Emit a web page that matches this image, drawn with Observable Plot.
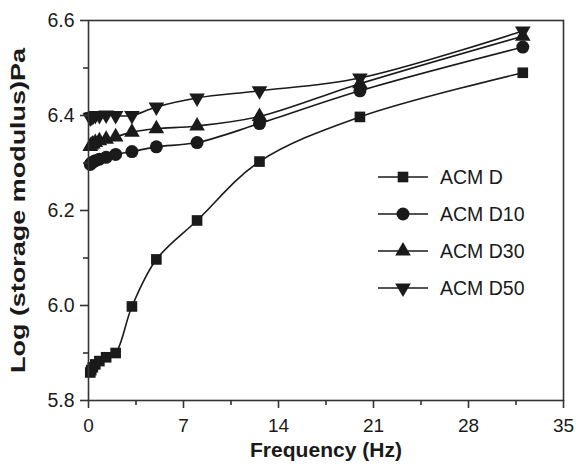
<!DOCTYPE html>
<html>
<head>
<meta charset="utf-8">
<script src="https://cdn.jsdelivr.net/npm/d3@7"></script>
<script src="https://cdn.jsdelivr.net/npm/@observablehq/plot@0.6"></script>
<style>
  body { margin: 0; background: #fff; }
  #wrap { position: relative; width: 576px; height: 468px; font-family: "Liberation Sans", Arial, sans-serif; }
  #legend { position: absolute; left: 0; top: 0; }
</style>
</head>
<body>
<div id="wrap"></div>
<script>
// Frequencies (Hz)
const freq = [0.13, 0.2, 0.32, 0.5, 0.8, 1.3, 2.0, 3.2, 5.0, 8.0, 12.6, 20.0, 32.0];
// Log (storage modulus) Pa
const acmD   = [5.859, 5.864, 5.870, 5.876, 5.883, 5.891, 5.900, 5.998, 6.097, 6.179, 6.303, 6.397, 6.490];
const acmD10 = [6.297, 6.300, 6.302, 6.305, 6.308, 6.312, 6.318, 6.324, 6.334, 6.343, 6.383, 6.452, 6.544];
const acmD30 = [6.335, 6.338, 6.340, 6.343, 6.347, 6.350, 6.355, 6.365, 6.372, 6.378, 6.398, 6.467, 6.567];
const acmD50 = [6.395, 6.397, 6.398, 6.400, 6.400, 6.401, 6.400, 6.400, 6.418, 6.437, 6.452, 6.479, 6.578];

const seriesNames = ["ACM D", "ACM D10", "ACM D30", "ACM D50"];
const seriesValues = [acmD, acmD10, acmD30, acmD50];

const xTicks = [0, 7, 14, 21, 28, 35];
const xMinor = [3.5, 10.5, 17.5, 24.5, 31.5];
const yTicks = [5.8, 6.0, 6.2, 6.4, 6.6];
const yMinor = [5.9, 6.1, 6.3, 6.5];

const xTitle = "Frequency (Hz)";
const yTitle = "Log (storage modulus)Pa";

// custom downward triangle
const triangleDown = {
  draw(ctx, size) {
    const s = Math.sqrt(size * 4 / Math.sqrt(3));
    const h = s * Math.sqrt(3) / 2;
    ctx.moveTo(-s / 2, -h / 3);
    ctx.lineTo(s / 2, -h / 3);
    ctx.lineTo(0, 2 * h / 3);
    ctx.closePath();
  }
};
const symbols = [d3.symbolSquare, d3.symbolCircle, d3.symbolTriangle, triangleDown];
const radii = [6, 6.5, 5.8, 5.8];

const rows = [];
seriesNames.forEach((name, i) => {
  freq.forEach((f, j) => rows.push({series: name, si: i, x: f, y: seriesValues[i][j]}));
});

const ink = "#1a1a1a";
const marks = [];
seriesNames.forEach((name, i) => {
  const data = rows.filter(d => d.si === i);
  marks.push(Plot.line(data, {x: "x", y: "y", curve: "catmull-rom", stroke: ink, strokeWidth: 1.6}));
});
seriesNames.forEach((name, i) => {
  const data = rows.filter(d => d.si === i);
  marks.push(Plot.dot(data, {x: "x", y: "y", symbol: symbols[i], r: radii[i], fill: ink, stroke: "none"}));
});

const chart = Plot.plot({
  width: 576,
  height: 468,
  marginLeft: 88,
  marginRight: 13,
  marginTop: 20,
  marginBottom: 68,
  style: {fontFamily: "'Liberation Sans', Arial, sans-serif", color: ink, background: "#fff", overflow: "visible"},
  x: {domain: [0, 35]},
  y: {domain: [5.8, 6.6]},
  marks: [
    ...marks,
    Plot.frame({stroke: "#333", strokeWidth: 1.6}),
    Plot.axisX({ticks: xTicks, tickSize: 8, tickPadding: 10, fontSize: 19, label: null, stroke: "#333", strokeWidth: 1.6}),
    Plot.axisX({ticks: xMinor, tickSize: 5, tickFormat: () => "", label: null, stroke: "#333", strokeWidth: 1.6}),
    Plot.axisY({ticks: yTicks, tickSize: 8, tickPadding: 6, fontSize: 19.5, tickFormat: d3.format(".1f"), label: null, stroke: "#333", strokeWidth: 1.6}),
    Plot.axisY({ticks: yMinor, tickSize: 5, tickFormat: () => "", label: null, stroke: "#333", strokeWidth: 1.6}),
    Plot.text([xTitle], {frameAnchor: "bottom", dy: 56, text: d => d, fontSize: 20, fontWeight: "bold", fill: ink, textAnchor: "middle", className: "xtitle"}),
    Plot.text([yTitle], {frameAnchor: "left", dx: -70, rotate: -90, text: d => d, fontSize: 20, fontWeight: "bold", fill: ink, textAnchor: "middle", className: "ytitle"})
  ]
});

const wrap = document.getElementById("wrap");
wrap.appendChild(chart);

// stretch titles to the reference's widths
d3.select(chart).selectAll(".xtitle text").attr("textLength", 152).attr("lengthAdjust", "spacingAndGlyphs");
d3.select(chart).selectAll(".ytitle text").attr("textLength", 325).attr("lengthAdjust", "spacingAndGlyphs");

// Legend overlay
const leg = d3.select(wrap).append("svg")
  .attr("id", "legend").attr("width", 576).attr("height", 468);
const lx0 = 378, lx1 = 428, lmx = 403, ltx = 440, ly0 = 177, ldy = 37;
seriesNames.forEach((name, i) => {
  const y = ly0 + i * ldy;
  const g = leg.append("g");
  g.append("line").attr("x1", lx0).attr("x2", lx1).attr("y1", y).attr("y2", y)
    .attr("stroke", ink).attr("stroke-width", 1.6);
  const size = Math.PI * radii[i] * radii[i];
  g.append("path").attr("d", d3.symbol(symbols[i], size)()).attr("transform", `translate(${lmx},${y})`).attr("fill", ink);
  g.append("text").attr("x", ltx).attr("y", y).attr("dy", "0.35em")
    .attr("font-size", 19.5).attr("fill", ink)
    .attr("font-family", "'Liberation Sans', Arial, sans-serif").text(name);
});
</script>
</body>
</html>
